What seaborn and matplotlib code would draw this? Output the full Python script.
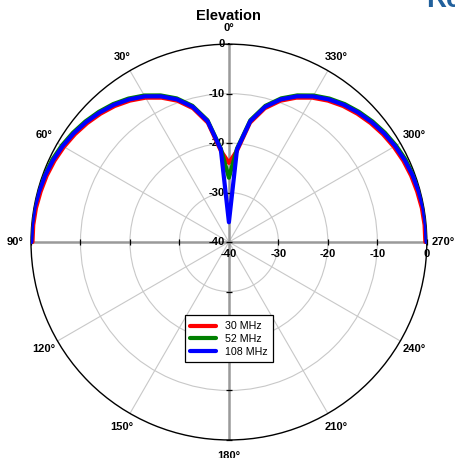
import numpy as np
import pandas as pd
import matplotlib
matplotlib.use('Agg')
import matplotlib.pyplot as plt
from matplotlib import font_manager as fm
import seaborn as sns

# angles in degrees (0 = zenith, positive = counter-clockwise), -90 == 270
angles = [-90, -85, -80, -75, -70, -65, -60, -55, -50, -45, -40, -35, -30, -25, -20, -15, -10, -5,
          0, 5, 10, 15, 20, 25, 30, 35, 40, 45, 50, 55, 60, 65, 70, 75, 80, 85, 90]

level_30 = [-0.3, -0.3, -0.4, -0.6, -0.8, -1.1, -1.5, -2.0, -2.6, -3.3, -4.1, -5.1, -6.3, -7.8, -9.6, -12.0, -15.5, -21.5,
            -24.0, -21.5, -15.5, -12.0, -9.6, -7.8, -6.3, -5.1, -4.1, -3.3, -2.6, -2.0, -1.5, -1.1, -0.8, -0.6, -0.4, -0.3, -0.3]
level_52 = [0.0, 0.0, 0.0, -0.2, -0.4, -0.6, -1.0, -1.5, -2.1, -2.8, -3.6, -4.6, -5.8, -7.3, -9.1, -11.5, -15.0, -21.0,
            -27.0, -21.0, -15.0, -11.5, -9.1, -7.3, -5.8, -4.6, -3.6, -2.8, -2.1, -1.5, -1.0, -0.6, -0.4, -0.2, 0.0, 0.0, 0.0]
level_108 = [-0.05, -0.05, -0.1, -0.3, -0.5, -0.8, -1.2, -1.7, -2.3, -3.0, -3.8, -4.8, -6.0, -7.5, -9.3, -11.7, -15.2, -21.2,
             -36.0, -21.2, -15.2, -11.7, -9.3, -7.5, -6.0, -4.8, -3.8, -3.0, -2.3, -1.7, -1.2, -0.8, -0.5, -0.3, -0.1, -0.05, -0.05]

freqs = ['30 MHz', '52 MHz', '108 MHz']
colors = ['#ff0000', '#008000', '#0000ff']

theta_labels = ['0°', '30°', '60°', '90°', '120°', '150°', '180°', '210°', '240°', '270°', '300°', '330°']
r_ticks = [-40, -30, -20, -10, 0]

sns.set_style('white')
plt.rcParams['text.color'] = 'black'
plt.rcParams['xtick.color'] = 'black'
plt.rcParams['ytick.color'] = 'black'


def find_font(name, fallback, size):
    for f in fm.findSystemFonts():
        if f.endswith(name):
            return fm.FontProperties(fname=f, size=size)
    return fm.FontProperties(family=fallback, size=size)


bold = find_font('LiberationSans-Bold.ttf', 'DejaVu Sans', 8)
regular = find_font('LiberationSans-Regular.ttf', 'DejaVu Sans', 7.7)
title_font = find_font('LiberationSans-Bold.ttf', 'DejaVu Sans', 10.5)
big_font = find_font('LiberationSans-Bold.ttf', 'DejaVu Sans', 20)
plt.rcParams['font.family'] = [regular.get_name(), 'DejaVu Sans']

df = pd.DataFrame({
    'theta': np.deg2rad(angles * 3),
    'level': level_30 + level_52 + level_108,
    'freq': [freqs[0]] * len(angles) + [freqs[1]] * len(angles) + [freqs[2]] * len(angles),
})

fig = plt.figure(figsize=(4.56, 4.58), dpi=100)
ax = fig.add_axes([0.068, 0.039, 0.868, 0.865], projection='polar')
ax.set_theta_zero_location('N')
ax.set_theta_direction(1)
ax.set_ylim(-40, 0)

# grid
ax.set_thetagrids(np.arange(0, 360, 30), labels=theta_labels)
for lab in ax.get_xticklabels():
    lab.set_fontproperties(bold)
ax.set_rgrids([-30, -20, -10], labels=['', '', ''])
ax.grid(True, color='#c8c8c8', lw=0.8)
ax.tick_params(axis='x', direction='inout', length=5, width=0.8, color='black', pad=2)
ax.spines['polar'].set_color('black')
ax.spines['polar'].set_linewidth(1.0)

# main cross axes
for t in [0, np.pi / 2, np.pi, 3 * np.pi / 2]:
    ax.plot([t, t], [-40, 0], color='#9a9a9a', lw=1.8, zorder=1)

# radial tick marks
ax.plot([0] * 5, r_ticks, ls='none', marker='_', ms=5, mew=0.9, color='black', zorder=2, clip_on=False)
ax.plot([np.pi] * 4, r_ticks[1:], ls='none', marker='_', ms=5, mew=0.9, color='black', zorder=2, clip_on=False)
ax.plot([np.pi / 2] * 4, r_ticks[1:], ls='none', marker='|', ms=5, mew=0.9, color='black', zorder=2, clip_on=False)
ax.plot([3 * np.pi / 2] * 4, r_ticks[1:], ls='none', marker='|', ms=5, mew=0.9, color='black', zorder=2, clip_on=False)

for r in r_ticks:
    ax.annotate(str(r), xy=(0, r), xytext=(-3, 0), textcoords='offset points',
                ha='right', va='center', fontproperties=bold)
    ax.annotate(str(r), xy=(3 * np.pi / 2, r), xytext=(0, -5), textcoords='offset points',
                ha='center', va='top', fontproperties=bold)

sns.lineplot(data=df, x='theta', y='level', hue='freq', hue_order=freqs, palette=colors,
             lw=3, sort=False, ax=ax, zorder=3)
ax.set_xlabel('')
ax.set_ylabel('')

handles, labels = ax.get_legend_handles_labels()
for h in handles:
    h.set_linewidth(3)
leg = ax.legend(handles, labels, loc='center', bbox_to_anchor=(0.502, 0.26),
                bbox_transform=fig.transFigure, prop=regular, fancybox=False,
                edgecolor='black', framealpha=1, handlelength=2.4, borderpad=0.55,
                labelspacing=0.25, handletextpad=0.8, shadow=False)
leg.get_frame().set_linewidth(0.9)

fig.text(0.502, 0.965, 'Elevation', ha='center', va='center', fontproperties=title_font)
fig.text(0.935, 1.0, 'Re', ha='left', va='center', fontproperties=big_font, color='#21609c')

plt.savefig('out.png', dpi=100)
